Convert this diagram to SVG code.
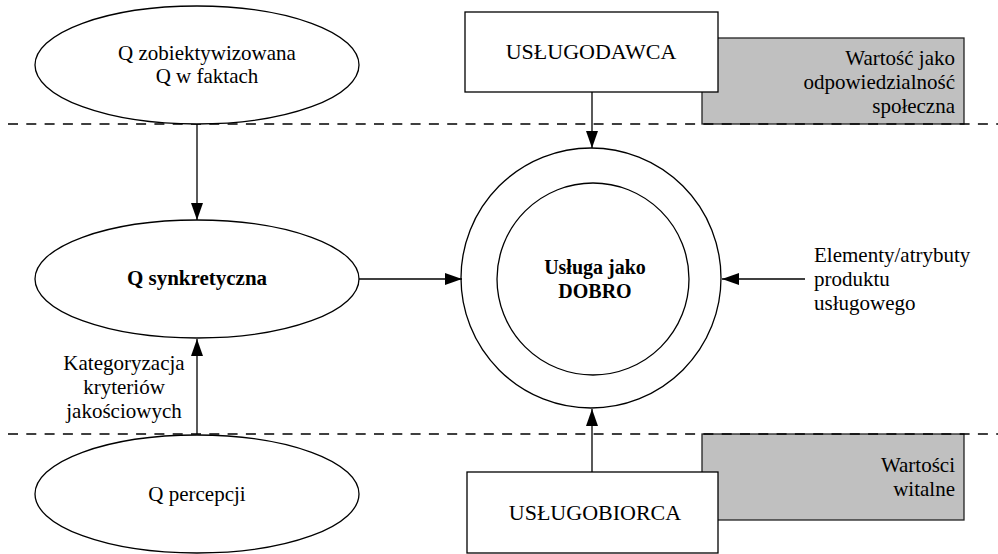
<svg xmlns="http://www.w3.org/2000/svg" width="998" height="554" viewBox="0 0 998 554">
<style>
.s{fill:#fff;stroke:#000;stroke-width:1.3}
.g{fill:#c0c0c0;stroke:#222;stroke-width:1.3}
.d{stroke:#000;stroke-width:1.3;stroke-dasharray:10 8.3;fill:none}
.c{stroke:#000;stroke-width:1.3;fill:none;marker-end:url(#ah)}
text{font-family:"Liberation Serif","Times New Roman",serif;font-size:21px;fill:#000}
.m{text-anchor:middle}
.e{text-anchor:end}
.b{font-weight:bold}
.big{font-size:22px}
</style>
<defs>
<marker id="ah" markerUnits="userSpaceOnUse" markerWidth="18" markerHeight="14" refX="17" refY="6" orient="auto">
<path d="M0,0 L17,6 L0,12 Z" fill="#000"/>
</marker>
</defs>
<rect width="998" height="554" fill="#fff"/>
<g id="value-top">
<rect class="g" x="702" y="38" width="262" height="86"/>
<text class="e" x="955" y="65">Wartość jako</text>
<text class="e" x="955" y="89">odpowiedzialność</text>
<text class="e" x="955" y="113">społeczna</text>
</g>
<g id="value-bottom">
<rect class="g" x="702" y="434" width="262" height="86"/>
<text class="e" x="955" y="472">Wartości</text>
<text class="e" x="955" y="496">witalne</text>
</g>
<g id="dividers">
<line class="d" x1="8" y1="124" x2="998" y2="124"/>
<line class="d" x1="8" y1="434" x2="998" y2="434"/>
</g>
<g id="q-obj">
<ellipse class="s" cx="197" cy="65" rx="162" ry="59"/>
<text class="m" x="207" y="60">Q zobiektywizowana</text>
<text class="m" x="207" y="83">Q w faktach</text>
</g>
<g id="q-synk">
<ellipse class="s" cx="197" cy="279" rx="162" ry="59"/>
<text class="m b" x="197" y="285">Q synkretyczna</text>
</g>
<g id="q-perc">
<ellipse class="s" cx="197" cy="494" rx="162" ry="59"/>
<text class="m" x="197" y="501">Q percepcji</text>
</g>
<g id="uslugodawca">
<rect class="s" x="465" y="12" width="253" height="80"/>
<text class="m big" x="591" y="59">USŁUGODAWCA</text>
</g>
<g id="uslugobiorca">
<rect class="s" x="467" y="472" width="251" height="81"/>
<text class="m big" x="595" y="520">USŁUGOBIORCA</text>
</g>
<g id="usluga">
<circle class="s" cx="591" cy="278" r="130"/>
<circle class="s" cx="593" cy="279" r="96"/>
<text class="m b" x="595" y="274" style="font-size:20px">Usługa jako</text>
<text class="m b" x="595" y="298" style="font-size:20px">DOBRO</text>
</g>
<g id="elementy">
<text x="814" y="262">Elementy/atrybuty</text>
<text x="814" y="286">produktu</text>
<text x="814" y="310">usługowego</text>
</g>
<g id="kategoryzacja">
<text class="m" x="124" y="370">Kategoryzacja</text>
<text class="m" x="124" y="394">kryteriów</text>
<text class="m" x="124" y="418">jakościowych</text>
</g>
<g id="connectors">
<line class="c" x1="197" y1="124" x2="197" y2="220"/>
<line class="c" x1="359" y1="279" x2="462" y2="279"/>
<line class="c" x1="197" y1="434" x2="197" y2="339"/>
<line class="c" x1="592" y1="92" x2="592" y2="148"/>
<line class="c" x1="592" y1="472" x2="592" y2="409"/>
<line class="c" x1="805" y1="279" x2="722" y2="279"/>
</g>
</svg>
